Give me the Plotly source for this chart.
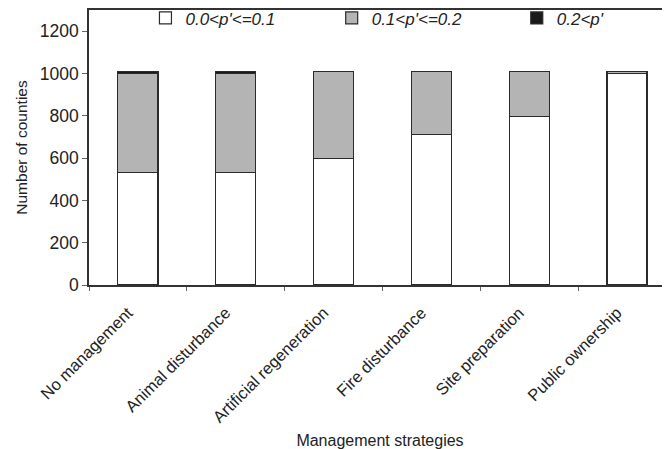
import plotly.graph_objects as go

categories = ["No management", "Animal disturbance", "Artificial regeneration",
              "Fire disturbance", "Site preparation", "Public ownership"]
low = [530, 530, 598, 712, 797, 1000]      # 0.0<p'<=0.1
mid = [468, 468, 412, 298, 213, 8]         # 0.1<p'<=0.2
high = [12, 12, 0, 0, 0, 2]                # 0.2<p'
series_names = ["0.0<p'<=0.1", "0.1<p'<=0.2", "0.2<p'"]
series_colors = ["#ffffff", "#b4b4b4", "#1a1a1a"]
y_ticks = [0, 200, 400, 600, 800, 1000, 1200]

legend_ids = ["legend", "legend2", "legend3"]
legend_x = [0.097, 0.417, 0.735]

fig = go.Figure()
for vals, name, col, lg in zip([low, mid, high], series_names, series_colors, legend_ids):
    fig.add_trace(go.Bar(
        x=categories, y=vals, name=name, legend=lg,
        marker=dict(color=col, line=dict(color="#2b2b2b", width=1.2)),
        width=0.41,
    ))

legend_common = dict(
    orientation="h", y=1.035, xanchor="left", yanchor="top",
    font=dict(size=17, style="italic", color="#222"),
    itemwidth=30, bgcolor="rgba(0,0,0,0)",
)
layout_legends = {lg: dict(legend_common, x=x) for lg, x in zip(legend_ids, legend_x)}

fig.update_layout(
    barmode="stack",
    width=670, height=449,
    margin=dict(l=81, r=7, t=2, b=172, autoexpand=False),
    plot_bgcolor="white", paper_bgcolor="white",
    font=dict(family="Liberation Sans, Arial, sans-serif", size=16, color="#222"),
    showlegend=True,
    xaxis=dict(
        range=[-0.5, 5.45], automargin=False,
        showline=True, linecolor="#333", linewidth=1.5, mirror=True,
        ticks="outside", tickson="boundaries", ticklen=4, tickcolor="#666",
        tickangle=-45, tickfont=dict(size=16.5),
        ticklabelshift=-10, ticklabelstandoff=10,
        title=dict(text="Management strategies", font=dict(size=16), standoff=10),
        showgrid=False,
    ),
    yaxis=dict(
        range=[0, 1300], automargin=False,
        tickvals=y_ticks,
        showline=True, linecolor="#333", linewidth=1.5,
        ticks="outside", ticklen=5, tickcolor="#666",
        tickfont=dict(size=17.5),
        title=dict(text="Number of counties", font=dict(size=15.5), standoff=8),
        showgrid=False, zeroline=False,
    ),
    **layout_legends,
)

fig.write_html("out.html")
